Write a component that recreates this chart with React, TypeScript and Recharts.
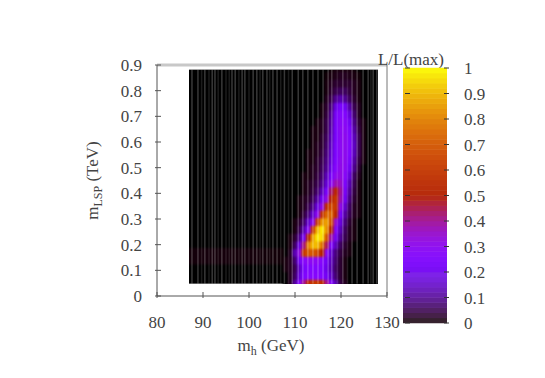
import React from 'react';
import { ScatterChart, Scatter, XAxis, YAxis, Label } from 'recharts';

const xTicks = [80, 90, 100, 110, 120, 130];
const yTicks = [0, 0.1, 0.2, 0.3, 0.4, 0.5, 0.6, 0.7, 0.8, 0.9];
const barTicks = [0, 0.1, 0.2, 0.3, 0.4, 0.5, 0.6, 0.7, 0.8, 0.9, 1];

const massColumns = [108,109,110,111,112,113,114,115,116,117,118,119,120,121,122,123,124,125,126,127,128];
const lspRows = [0.05,0.08,0.11,0.14,0.17,0.2,0.23,0.26,0.29,0.32,0.35,0.38,0.41,0.44,0.47,0.5,0.53,0.56,0.59,0.62,0.65,0.68,0.71,0.74,0.77,0.8,0.83,0.86,0.89];
const likelihood = [
  [0,.02,.1,.25,.4,.55,.6,.6,.55,.4,.25,.12,.04,.02,0,0,0,0,0,0,0],
  [0,.02,.06,.16,.24,.27,.27,.27,.26,.2,.14,.07,.03,.01,0,0,0,0,0,0,0],
  [.01,.02,.05,.14,.22,.25,.26,.26,.24,.18,.12,.06,.03,.01,0,0,0,0,0,0,0],
  [.01,.02,.07,.2,.28,.3,.3,.3,.27,.2,.13,.07,.03,.01,0,0,0,0,0,0,0],
  [0,.02,.12,.32,.6,.7,.7,.66,.5,.28,.15,.08,.04,.02,.01,0,0,0,0,0,0],
  [0,.01,.06,.18,.42,.8,.9,.9,.76,.44,.24,.13,.06,.03,.01,0,0,0,0,0,0],
  [0,.01,.03,.09,.22,.5,.86,.97,.95,.68,.38,.2,.1,.05,.02,.01,0,0,0,0,0],
  [0,0,.01,.05,.12,.28,.6,.9,.97,.82,.5,.25,.13,.06,.02,.01,0,0,0,0,0],
  [0,0,.01,.03,.07,.15,.3,.62,.84,.85,.68,.34,.17,.08,.03,.01,0,0,0,0,0],
  [0,0,0,.01,.04,.08,.15,.3,.58,.74,.74,.52,.23,.11,.05,.02,.01,0,0,0,0],
  [0,0,0,.01,.02,.05,.09,.17,.32,.56,.66,.6,.32,.15,.06,.02,.01,0,0,0,0],
  [0,0,0,.01,.02,.03,.06,.11,.2,.33,.53,.6,.38,.2,.08,.03,.01,0,0,0,0],
  [0,0,0,0,.01,.02,.04,.07,.13,.23,.43,.53,.4,.22,.1,.04,.01,0,0,0,0],
  [0,0,0,0,.01,.02,.03,.05,.09,.16,.3,.38,.36,.24,.12,.05,.01,0,0,0,0],
  [0,0,0,0,.01,.01,.02,.04,.07,.13,.22,.31,.33,.28,.16,.06,.02,0,0,0,0],
  [0,0,0,0,0,.01,.02,.03,.06,.1,.18,.27,.32,.3,.2,.09,.03,0,0,0,0],
  [0,0,0,0,0,.01,.01,.03,.05,.09,.16,.25,.31,.31,.23,.11,.04,.01,0,0,0],
  [0,0,0,0,0,.01,.01,.02,.04,.08,.15,.24,.3,.31,.25,.13,.05,.01,0,0,0],
  [0,0,0,0,0,0,.01,.02,.03,.07,.14,.24,.3,.31,.26,.14,.05,.01,0,0,0],
  [0,0,0,0,0,0,.01,.01,.03,.06,.13,.23,.3,.31,.25,.13,.05,.01,0,0,0],
  [0,0,0,0,0,0,.01,.01,.02,.05,.12,.23,.3,.3,.24,.11,.04,.01,0,0,0],
  [0,0,0,0,0,0,0,.01,.02,.05,.11,.23,.29,.29,.2,.09,.03,.01,0,0,0],
  [0,0,0,0,0,0,0,0,.01,.04,.1,.22,.27,.26,.16,.07,.02,0,0,0,0],
  [0,0,0,0,0,0,0,0,.01,.03,.08,.18,.23,.2,.11,.05,.02,0,0,0,0],
  [0,0,0,0,0,0,0,0,0,.02,.05,.1,.12,.1,.06,.03,.01,0,0,0,0],
  [0,0,0,0,0,0,0,0,0,.01,.03,.05,.06,.06,.04,.02,.01,0,0,0,0],
  [0,0,0,0,0,0,0,0,0,.01,.02,.03,.03,.03,.03,.02,.01,0,0,0,0],
  [0,0,0,0,0,0,0,0,0,.005,.01,.015,.02,.02,.015,.01,.005,0,0,0,0],
  [0,0,0,0,0,0,0,0,0,0,.005,.01,.01,.01,.01,.005,0,0,0,0,0],
];

const bandMass = [87,88,89,90,91,92,93,94,95,96,97,98,99,100,101,102,103,104,105,106,107];
const bandRows = [0.14, 0.17];
const bandLevels = [.005,.006,.007,.007,.007,.007,.006,.007,.007,.007,.006,.006,.006,.007,.006,.006,.005,.005,.005,.005,.005];

const stripeMass = [87.6,88.9,90.4,92,92.6,94.1,96.3,97,98.5,99.1,100.9,101.7,103,103.9,105.2,106.1,107.7,109.4,110.7,111.7,112.8,113.9,115,116.1,117.2,118,120.4,122.4,123.5,124.8,125.9,127,127.8];
const dimStripeMass = [89.7,91.3,93.3,95,95.7,97.8,100,102.4,104.5,106.9,108.6,119.2,121.4,126.5];
const stripeCentre = 0.465;
const plateMass = 107.5;
const barLevels = [0,.02,.04,.06,.08,.1,.12,.14,.16,.18,.2,.22,.24,.26,.28,.3,.32,.34,.36,.38,.4,.42,.44,.46,.48,.5,.52,.54,.56,.58,.6,.62,.64,.66,.68,.7,.72,.74,.76,.78,.8,.82,.84,.86,.88,.9,.92,.94,.96,.98];

const cells = [
  ...lspRows.flatMap((m, r) => massColumns.map((h, c) => ({ h, m, v: likelihood[r][c] }))),
  ...bandRows.flatMap((m) => bandMass.map((h, c) => ({ h, m, v: bandLevels[c] }))),
];
const plate = [{ h: plateMass, m: stripeCentre }];
const stripes = stripeMass.map((h) => ({ h, m: stripeCentre, o: 0.22 }));
const dimStripes = dimStripeMass.map((h) => ({ h, m: stripeCentre, o: 0.11 }));
const barCells = barLevels.map((lv) => ({ a: 0.5, lv: lv + 0.01 }));

const channels = (x: number) => [
  Math.sqrt(x),
  x * x * x,
  Math.max(0, Math.sin(2 * Math.PI * x)),
].map((c) => c * 255);
const palette = (x: number) => {
  const [r, g, b] = channels(x);
  return `rgb(${Math.round(r)},${Math.round(g)},${Math.round(b)})`;
};
const washed = (x: number) => {
  const wash = x < 0.2 ? 0.16 : 0.06;
  const [r, g, b] = channels(x).map((c) => Math.round(c * (1 - wash) + 205 * wash));
  return `rgb(${r},${g},${b})`;
};

const FONT = '"Liberation Serif", serif';
const TEXT = '#444';
const FRAME = '#555';

const PlateRect = (p: any) => (
  <rect x={p.cx - 94.5} y={p.cy - 107} width={189} height={214} fill="#000" />
);
const HeatCell = (p: any) => (
  <rect x={p.cx - 2.8} y={p.cy - 4.4} width={5.6} height={8.8} fill={palette(p.payload.v)} />
);
const StripeLine = (p: any) => (
  <rect x={p.cx - 0.75} y={p.cy - 107} width={1.5} height={214} fill="#fff" fillOpacity={p.payload.o} />
);
const BarCell = (p: any) => (
  <rect x={p.cx - 22} y={p.cy - 2.8} width={44} height={5.6} fill={washed(p.payload.lv)} />
);

const BottomTick = ({ x, y, payload }: any) => (
  <g>
    <line x1={x} x2={x} y1={y} y2={y - 6} stroke={FRAME} />
    <text x={x} y={y + 30} textAnchor="middle" fontFamily={FONT} fontSize={17} fill={TEXT}>{payload.value}</text>
  </g>
);
const LeftTick = ({ x, y, payload }: any) => (
  <g>
    <line x1={x} x2={x + 6} y1={y} y2={y} stroke={FRAME} />
    <text x={x - 13} y={y + 6} textAnchor="end" fontFamily={FONT} fontSize={17} fill={TEXT}>{payload.value}</text>
  </g>
);
const TopTick = ({ x, y }: any) => <line x1={x} x2={x} y1={y} y2={y + 6} stroke={FRAME} />;
const RightTick = ({ x, y }: any) => <line x1={x} x2={x - 6} y1={y} y2={y} stroke={FRAME} />;
const BarTick = ({ x, y, payload }: any) => (
  <g>
    <line x1={x} x2={x - 5} y1={y} y2={y} stroke="#333" />
    <line x1={x - 44} x2={x - 39} y1={y} y2={y} stroke="#333" />
    <text x={x + 15} y={y + 6} fontFamily={FONT} fontSize={17} fill={TEXT}>{payload.value}</text>
  </g>
);

const XTitle = ({ viewBox }: any) => (
  <text x={viewBox.x + viewBox.width / 2 - 1} y={viewBox.y + 55} textAnchor="middle" fontFamily={FONT} fontSize={17} fill={TEXT}>
    m<tspan dy={4} fontSize={12}>h</tspan><tspan dy={-4}> (GeV)</tspan>
  </text>
);
const YTitle = ({ viewBox }: any) => {
  const cx = viewBox.x + viewBox.width - 59;
  const cy = viewBox.y + viewBox.height / 2;
  return (
    <text x={cx} y={cy} transform={`rotate(-90 ${cx} ${cy})`} textAnchor="middle" fontFamily={FONT} fontSize={17} fill={TEXT}>
      m<tspan dy={4} fontSize={12}>LSP</tspan><tspan dy={-4}> (TeV)</tspan>
    </text>
  );
};
const BarTitle = ({ viewBox }: any) => (
  <text x={viewBox.x - 36} y={viewBox.y - 3} textAnchor="middle" fontFamily={FONT} fontSize={17} fill={TEXT}>L/L(max)</text>
);

const css = `
.heatLayer { filter: blur(1.3px); clip-path: url(#heatClip); }
`;

export default function App() {
  return (
    <div style={{ position: 'absolute', left: 0, top: 0, width: 545, height: 378, background: '#fff' }}>
      <style>{css}</style>
      <svg width={0} height={0} style={{ position: 'absolute' }}>
        <defs>
          <clipPath id="heatClip" clipPathUnits="userSpaceOnUse">
            <rect x={189} y={70} width={189} height={214} />
          </clipPath>
        </defs>
      </svg>
      <div style={{ position: 'absolute', left: 0, top: 0 }}>
        <ScatterChart width={545} height={378} margin={{ top: 64, right: 157, bottom: 0, left: 0 }}>
          <XAxis type="number" dataKey="h" domain={[80, 130]} ticks={xTicks} height={82} tickSize={0} tickLine={false} tick={<BottomTick />} axisLine={{ stroke: FRAME }} interval={0}>
            <Label content={<XTitle />} />
          </XAxis>
          <XAxis xAxisId="top" orientation="top" type="number" dataKey="h" domain={[80, 130]} ticks={xTicks.slice(1, 5)} height={1} tickSize={0} tickLine={false} tick={<TopTick />} axisLine={{ stroke: '#c8c8c8', strokeWidth: 3 }} interval={0} />
          <YAxis type="number" dataKey="m" domain={[0, 0.9]} ticks={yTicks} width={157} tickSize={0} tickLine={false} tick={<LeftTick />} axisLine={{ stroke: FRAME }} interval={0}>
            <Label content={<YTitle />} />
          </YAxis>
          <YAxis yAxisId="right" orientation="right" type="number" dataKey="m" domain={[0, 0.9]} ticks={yTicks.slice(1, 9)} width={1} tickSize={0} tickLine={false} tick={<RightTick />} axisLine={{ stroke: '#777' }} interval={0} />
          <Scatter data={plate} dataKey="m" shape={<PlateRect />} isAnimationActive={false} />
          <Scatter className="heatLayer" data={cells} dataKey="m" shape={<HeatCell />} isAnimationActive={false} />
          <Scatter data={stripes} dataKey="m" shape={<StripeLine />} isAnimationActive={false} />
          <Scatter data={dimStripes} dataKey="m" shape={<StripeLine />} isAnimationActive={false} />
          <Scatter xAxisId="top" yAxisId="right" data={[]} isAnimationActive={false} />
        </ScatterChart>
      </div>
      <div style={{ position: 'absolute', left: 0, top: 0 }}>
        <ScatterChart width={545} height={378} margin={{ top: 68, right: 0, bottom: 55, left: 403 }}>
          <XAxis type="number" dataKey="a" domain={[0, 1]} hide />
          <YAxis orientation="right" type="number" dataKey="lv" domain={[0, 1]} ticks={barTicks} width={98} axisLine={false} tickSize={0} tickLine={false} tick={<BarTick />} interval={0}>
            <Label content={<BarTitle />} />
          </YAxis>
          <Scatter data={barCells} dataKey="lv" shape={<BarCell />} isAnimationActive={false} />
        </ScatterChart>
      </div>
    </div>
  );
}
